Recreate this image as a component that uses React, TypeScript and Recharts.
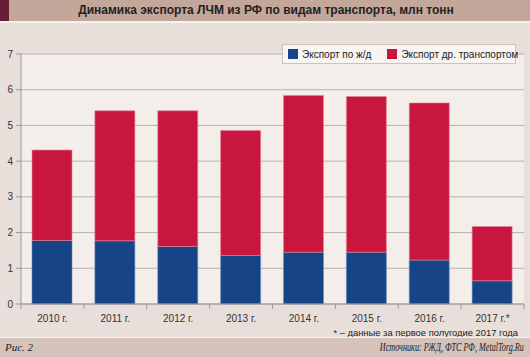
import { BarChart, Bar, XAxis, YAxis, CartesianGrid, Legend } from 'recharts';

const years = ['2010 г.', '2011 г.', '2012 г.', '2013 г.', '2014 г.', '2015 г.', '2016 г.', '2017 г.*'];
const railExport = [1.78, 1.77, 1.61, 1.36, 1.45, 1.45, 1.23, 0.65];
const totalExport = [4.31, 5.41, 5.41, 4.86, 5.84, 5.81, 5.63, 2.17];
const yTicks = [0, 1, 2, 3, 4, 5, 6, 7];
const seriesOrder = ['rail', 'other'];

const data = years.map((year, i) => ({
    year,
    rail: railExport[i],
    other: +(totalExport[i] - railExport[i]).toFixed(2),
}));

const FONT = '"Liberation Sans", Arial, sans-serif';
const SERIF = '"Liberation Serif", "DejaVu Serif", serif';
const HALF_BAND = 503 / years.length / 2;

const XTick = (props: any) => {
    const { x, y, payload, index, visibleTicksCount } = props;
    const axisY = y - 8;
    return (
        <g>
            <line x1={x - HALF_BAND} x2={x - HALF_BAND} y1={axisY} y2={axisY + 5} stroke='#999' />
            {index === visibleTicksCount - 1 && (
                <line x1={x + HALF_BAND} x2={x + HALF_BAND} y1={axisY} y2={axisY + 5} stroke='#999' />
            )}
            <text x={x} y={y + 10} textAnchor='middle' fontSize={10} fill='#333' fontFamily={FONT}>
                {payload.value}
            </text>
        </g>
    );
};

const LegendBox = (props: any) => {
    const items = [...(props.payload || [])].sort(
        (a: any, b: any) => seriesOrder.indexOf(a.dataKey) - seriesOrder.indexOf(b.dataKey)
    );
    return (
        <div
            style={{
                display: 'flex',
                alignItems: 'center',
                height: 20,
                width: 234,
                background: '#f7f4f1',
                border: '1px solid #c9c2bd',
                fontFamily: FONT,
                fontSize: 10,
                color: '#222',
                boxSizing: 'border-box',
                paddingLeft: 5,
                whiteSpace: 'nowrap',
            }}
        >
            {items.map((item: any, i: number) => (
                <span key={i} style={{ display: 'flex', alignItems: 'center', marginRight: i === 0 ? 16 : 0 }}>
                    <span style={{ width: 10, height: 10, background: item.color, marginRight: 4, display: 'inline-block' }} />
                    {item.value}
                </span>
            ))}
        </div>
    );
};

const App = () => {
    return (
        <div style={{ position: 'relative', width: 530, height: 357, background: '#e9dfda', overflow: 'hidden' }}>
            <style>{'body{margin:0}'}</style>
            <div
                style={{
                    position: 'absolute',
                    left: 0,
                    top: 0,
                    width: 530,
                    height: 21,
                    background: '#c4a79b',
                    borderBottom: '2px solid #f6f1ee',
                }}
            >
                <div style={{ position: 'absolute', left: 0, top: 0, width: 9, height: 21, background: '#6a1e36' }} />
                <div
                    style={{
                        position: 'absolute',
                        left: 0,
                        width: 532,
                        top: 3,
                        textAlign: 'center',
                        fontFamily: FONT,
                        fontWeight: 'bold',
                        fontSize: 12,
                        color: '#222',
                    }}
                >
                    Динамика экспорта ЛЧМ из РФ по видам транспорта, млн тонн
                </div>
            </div>

            <div style={{ position: 'absolute', left: 0, top: 0 }}>
                <BarChart
                    width={530}
                    height={357}
                    data={data}
                    margin={{ top: 34, right: 6, left: 0, bottom: 23 }}
                    barSize={40}
                >
                    <CartesianGrid vertical={false} stroke='#b8b0aa' fill='#f3eeea' />
                    <XAxis
                        dataKey='year'
                        height={30}
                        tickLine={false}
                        tickSize={6}
                        tickMargin={2}
                        axisLine={{ stroke: '#999' }}
                        tick={<XTick />}
                        interval={0}
                    />
                    <YAxis
                        width={21}
                        domain={[0, 7]}
                        ticks={yTicks}
                        interval={0}
                        tickSize={5}
                        tickMargin={3}
                        axisLine={{ stroke: '#999' }}
                        tickLine={{ stroke: '#999' }}
                        tick={{ fontSize: 10, fill: '#333', fontFamily: FONT }}
                    />
                    <YAxis
                        yAxisId='right'
                        orientation='right'
                        width={0}
                        domain={[0, 7]}
                        tick={false}
                        tickLine={false}
                        axisLine={{ stroke: '#b8b0aa' }}
                    />
                    <Legend
                        verticalAlign='top'
                        align='right'
                        content={<LegendBox />}
                        wrapperStyle={{ top: 44, left: 282, width: 234 }}
                    />
                    <Bar
                        dataKey='rail'
                        name='Экспорт по ж/д'
                        stackId='a'
                        fill='#164486'
                        stroke='#6f8fbf'
                        strokeWidth={0.6}
                        isAnimationActive={false}
                    />
                    <Bar
                        dataKey='other'
                        name='Экспорт др. транспортом'
                        stackId='a'
                        fill='#c8163e'
                        stroke='#e6849a'
                        strokeWidth={0.6}
                        isAnimationActive={false}
                    />
                </BarChart>
            </div>

            <div
                style={{
                    position: 'absolute',
                    right: 12,
                    top: 327,
                    fontFamily: FONT,
                    fontSize: 9.4,
                    color: '#222',
                }}
            >
                * – данные за первое полугодие 2017 года
            </div>
            <div
                style={{
                    position: 'absolute',
                    left: 0,
                    top: 337,
                    width: 530,
                    height: 20,
                    background: '#d5c2b8',
                    borderTop: '1px solid #f6f1ee',
                    fontFamily: SERIF,
                    fontStyle: 'italic',
                    fontSize: 11,
                    color: '#222',
                }}
            >
                <span style={{ position: 'absolute', left: 5, top: 3 }}>Рис. 2</span>
                <span
                    style={{
                        position: 'absolute',
                        right: 6,
                        top: 2,
                        fontSize: 12,
                        whiteSpace: 'nowrap',
                        transform: 'scaleX(0.68)',
                        transformOrigin: 'right center',
                    }}
                >
                    Источники: РЖД, ФТС РФ, MetalTorg.Ru
                </span>
            </div>
        </div>
    );
};

export default App;
